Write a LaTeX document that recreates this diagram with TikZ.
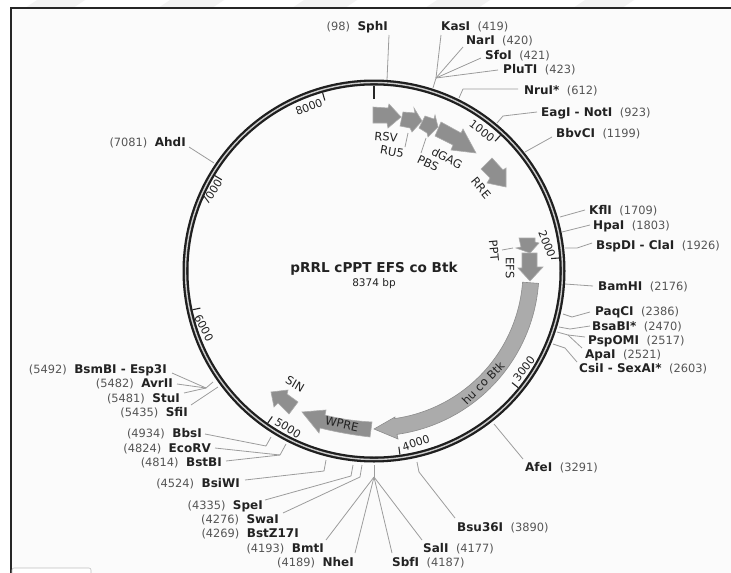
\documentclass[tikz,border=0pt]{standalone}
\usepackage{fontspec}
\setmainfont{DejaVu Sans}
\definecolor{paper}{HTML}{FBFBFB}
\definecolor{lead}{HTML}{9C9C9C}
\definecolor{numc}{HTML}{555555}
\definecolor{txtc}{HTML}{222222}
\definecolor{feat}{HTML}{8F8F8F}
\definecolor{featl}{HTML}{ABABAB}
\definecolor{stripe}{HTML}{F3F3F3}
\tikzset{
 leader/.style={draw=lead,line width=0.8pt,line join=round},
 feature/.style={fill=feat,draw=featl,line width=0.6pt,line join=miter},
 rsite/.style={inner sep=0pt,font=\fontsize{11.4}{12}\selectfont,text=txtc},
 tlabel/.style={inner sep=0pt,font=\fontsize{11}{12}\selectfont,text=txtc},
 flabel/.style={inner sep=0pt,font=\fontsize{11.5}{12}\selectfont,text=txtc},
 tickm/.style={line width=1.1pt,draw=black!85},
}
\newcommand{\RS}[5]{\node[rsite,anchor=west] (#1) at (#2,#3) {{\fontsize{12}{12}\selectfont\textbf{#4}}\hspace{7.5pt}\textcolor{numc}{(#5)}};}
\newcommand{\LS}[5]{\node[rsite,anchor=east] (#1) at (#2,#3) {\textcolor{numc}{(#5)}\hspace{7.5pt}{\fontsize{12}{12}\selectfont\textbf{#4}}};}
\begin{document}
\begin{tikzpicture}[x=1pt,y=-1pt]
\useasboundingbox (0,0) rectangle (731,573);
\fill[white] (0,0) rectangle (731,573);
\foreach \a/\b in {25/73,158/212,292/345,425/478,573/622}
  \fill[stripe] (\a,8) -- (\a+12,0) -- (\b+12,0) -- (\b,8) -- cycle;
\fill[paper] (11,8) rectangle (731,573);
\draw[line width=1.1pt,draw=black!85] (731,8) -- (11,8) -- (11,573);
\draw[line width=0.6pt,draw=black!25,fill=white,rounded corners=2pt] (12,580) -- (12,568) -- (91,568) -- (91,580);
% leaders
\foreach \n/\x/\y in {
 a1/389/35,a2/387/80,
 b1/441/35,b0/436/78,b2/433/88,c1/463/47,d1/481/58,e1/498/70,
 f1/518/89,f2/463/89,f3/459/98,
 g1/537/112,g2/503/116,g3/497/123,
 h1/552/137,h2/525/152,
 i1/585/210,i2/560/217,
 j1/590/225,j2/562/232,
 k1/592/243,k2/577/248,k3/565/248,
 l1/593/286,l2/565/284,
 m1/590/312,m2/572/317,m3/563/314,
 n1/590/326,n2/570/329,n3/559/327,
 o1/585/337,o2/568/335,o3/557/332,
 p1/582/348,
 q1/577/362,q2/565/348,q3/553/344,
 r1/523/459,r2/494/424,
 s1/455/518,s2/419/472,s3/417/462,
 t1/422/540,t0/374/477,t2/374/465,
 u1/392/553,v1/355/553,w1/326/540,
 x1/265/500,x2/351/476,x3/353/465,
 y1/283/513,y2/360/477,y3/362/465,
 z1/245/480,z2/324/471,z3/326/460,
 A1/226/461,A0/280/455,A2/286/444,B1/215/448,
 C1/205/434,C2/266/446,C3/271/437,
 D1/191/405,D2/218/387,
 E1/184/393,E0/206/388,E2/213/382,F1/177/384,G1/172/373,
 H1/189/147,H2/214/163,
 ru1/408/133,ru2/405/147,pb1/426/138,pb2/421/153,pp1/513/248,pp2/502/250}
 \coordinate (\n) at (\x,\y);
\foreach \p/\q in {a1/a2,b1/b0,c1/b0,d1/b0,e1/b0,b0/b2,i1/i2,j1/j2,l1/l2,h1/h2,r1/r2,D1/D2,H1/H2,ru1/ru2,pb1/pb2,pp1/pp2,t0/t2,t1/t0,u1/t0,v1/t0,w1/t0,F1/E0,E1/E0,G1/E0,E0/E2,B1/A0,A1/A0,A0/A2}
  \draw[leader] (\p) -- (\q);
\draw[leader] (f1)--(f2)--(f3);
\draw[leader] (g1)--(g2)--(g3);
\draw[leader] (k1)--(k2)--(k3);
\draw[leader] (m1)--(m2)--(m3);
\draw[leader] (n1)--(n2)--(n3);
\draw[leader] (o1)--(o2)--(o3);
\draw[leader] (p1)--(o2);
\draw[leader] (q1)--(q2)--(q3);
\draw[leader] (s1)--(s2)--(s3);
\draw[leader] (x1)--(x2)--(x3);
\draw[leader] (y1)--(y2)--(y3);
\draw[leader] (z1)--(z2)--(z3);
\draw[leader] (C1)--(C2)--(C3);
% ring
\coordinate (cen) at (374,271);
\draw[black!88,line width=6pt] (cen) circle[radius=188.5];
\draw[white!80!black,line width=1.4pt] (cen) circle[radius=188.5];
% ticks
\draw[tickm,line width=1.5pt] (374,86) -- (374,99);
\foreach \k in {1000,2000,...,8000}
  \draw[tickm] ({374+185.5*sin(\k/8374*360)},{271-185.5*cos(\k/8374*360)}) -- ({374+177.5*sin(\k/8374*360)},{271-177.5*cos(\k/8374*360)});
\foreach \t/\x/\y/\r in {1000/482/131/-37,2000/547/244/-68,3000/524/369/52,4000/416/443/18,5000/288/428/-31,6000/204/328/-62,7000/212/192/58,8000/309/107/21}
  \node[tlabel,rotate=\r] (t\t) at (\x,\y) {\t};
% features
\draw[feature] (373,107)--(388,108)--(389,104)--(401,117)--(388,128)--(387,123)--(373,123)--cycle;
\draw[feature] (403,112)--(415,113)--(414,108)--(422,121)--(412,132)--(410,128)--(400,126)--cycle;
\draw[feature] (425,116)--(434,119)--(435,115)--(438,127)--(428,137)--(427,133)--(419,128)--cycle;
\draw[feature] (441,122)--(461,133)--(463,129)--(476,153)--(451,150)--(453,145)--(435,136)--cycle;
\draw[feature] (492,158)--(503,170)--(506,168)--(506,187)--(487,183)--(490,178)--(481,169)--cycle;
\draw[feature] (519,238)--(535,238)--(535,242)--(539,243)--(530,253)--(516,248)--(521,247)--cycle;
\draw[feature] (522,253)--(537,253)--(537,267)--(543,267)--(530,281)--(518,268)--(522,268)--cycle;
\draw[feature] (372,422) .. controls (355,421) and (340,419) .. (325,415) -- (326,410) -- (302,412) -- (319,433) -- (320,428) .. controls (336,432) and (353,435) .. (370,437) -- cycle;
\draw[feature] (271,392)--(288,390)--(287,394)--(298,402)--(289,414)--(278,403)--(274,407)--cycle;
\draw[feature,fill=featl,draw=black!45] plot[domain=4.3:82,samples=50] ({374+165*cos(\x)},{271+165*sin(\x)})
  -- (398,439) -- (374,429) -- (395,417)
  -- plot[domain=82:4.3,samples=50] ({374+149*cos(\x)},{271+149*sin(\x)}) -- cycle;
\foreach \n/\t/\x/\y/\r in {lRSV/RSV/386/137/-5,lRU/RU5/392/152/-10,lPBS/PBS/428/163/-25,lGAG/dGAG/447/158/-28,lRRE/RRE/481/188/-50,lPPT/PPT/494/251/-85,lEFS/EFS/510/268/-90,lBtk/hu co Btk/483/383/45,lWP/WPRE/342/424/-12,lSIN/SIN/295/384/-30}
  \node[flabel,rotate=\r] (\n) at (\x,\y) {\t};
% title
\node[inner sep=0pt,font=\fontsize{13.6}{14}\selectfont\bfseries,text=txtc] (title) at (374,269) {pRRL cPPT EFS co Btk};
\node[inner sep=0pt,font=\fontsize{10.5}{11}\selectfont,text=txtc] (size) at (374,284) {8374 bp};
% sites right
\RS{KasI}{441}{27}{KasI}{419}
\RS{NarI}{466}{41}{NarI}{420}
\RS{SfoI}{485}{56}{SfoI}{421}
\RS{PluTI}{503}{70}{PluTI}{423}
\RS{NruI}{524}{91}{NruI*}{612}
\RS{EagI}{541}{113}{EagI - NotI}{923}
\RS{BbvCI}{556}{134}{BbvCI}{1199}
\RS{KflI}{589}{211}{KflI}{1709}
\RS{HpaI}{593}{226}{HpaI}{1803}
\RS{BspDI}{596}{246}{BspDI - ClaI}{1926}
\RS{BamHI}{598}{287}{BamHI}{2176}
\RS{PaqCI}{595}{312}{PaqCI}{2386}
\RS{BsaBI}{592}{327}{BsaBI*}{2470}
\RS{PspOMI}{588}{341}{PspOMI}{2517}
\RS{ApaI}{585}{355}{ApaI}{2521}
\RS{CsiI}{579}{369}{CsiI - SexAI*}{2603}
\RS{AfeI}{525}{468}{AfeI}{3291}
\RS{Bsu}{457}{528}{Bsu36I}{3890}
\RS{SalI}{423}{549}{SalI}{4177}
\RS{SbfI}{392}{563}{SbfI}{4187}
% sites left
\LS{SphI}{388}{27}{SphI}{98}
\LS{AhdI}{186}{143}{AhdI}{7081}
\LS{NheI}{354}{563}{NheI}{4189}
\LS{BmtI}{324}{549}{BmtI}{4193}
\LS{BstZ}{299}{534}{BstZ17I}{4269}
\LS{SwaI}{279}{520}{SwaI}{4276}
\LS{SpeI}{263}{506}{SpeI}{4335}
\LS{BsiWI}{240}{484}{BsiWI}{4524}
\LS{BstBI}{222}{463}{BstBI}{4814}
\LS{EcoRV}{211}{449}{EcoRV}{4824}
\LS{BbsI}{202}{434}{BbsI}{4934}
\LS{SfiI}{188}{413}{SfiI}{5435}
\LS{StuI}{180}{399}{StuI}{5481}
\LS{AvrII}{173}{384}{AvrII}{5482}
\LS{BsmBI}{167}{370}{BsmBI - Esp3I}{5492}
\end{tikzpicture}
\end{document}
